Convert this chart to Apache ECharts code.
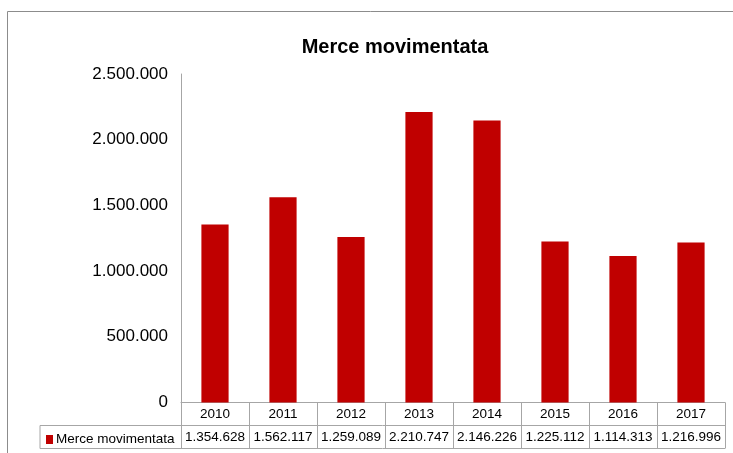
<!DOCTYPE html>
<html>
<head>
<meta charset="utf-8">
<script src="https://cdn.jsdelivr.net/npm/echarts@6/dist/echarts.min.js"></script>
<style>
  html, body { margin: 0; padding: 0; background: #fff; }
  #chart { width: 733px; height: 453px; }
</style>
</head>
<body>
<div id="chart"></div>
<script>
// dati
var years = ['2010', '2011', '2012', '2013', '2014', '2015', '2016', '2017']
var merce = [1354628, 1562117, 1259089, 2210747, 2146226, 1225112, 1114313, 1216996]
var yTicks = [0, 500000, 1000000, 1500000, 2000000, 2500000]

var seriesName = 'Merce movimentata'
var font = 'Liberation Sans, Arial, sans-serif'
var lineColor = '#a6a6a6'

// griglia
var gLeft = 181, gRight = 8, gTop = 74, gBottom = 50.5
var rowH = 23
var axisY = 453 - gBottom
var tableLeft = 40

function fmt(n) {
  return String(n).replace(/\B(?=(\d{3})+(?!\d))/g, '.')
}

var chart = echarts.init(document.getElementById('chart'))

var option = {
  animation: false,
  title: {
    text: seriesName,
    left: 390,
    top: 32,
    textAlign: 'center',
    textStyle: { fontFamily: font, fontSize: 20, fontWeight: 'bold', color: '#000' }
  },
  legend: {
    data: [seriesName],
    left: tableLeft + 6,
    top: axisY + rowH + 7,
    icon: 'rect',
    itemWidth: 7,
    itemHeight: 9,
    itemGap: 4,
    padding: 0,
    textStyle: { fontFamily: font, fontSize: 13.5, color: '#000', padding: [0, 0, 0, -2] }
  },
  grid: { left: gLeft, right: gRight, top: gTop, bottom: gBottom, containLabel: false },
  xAxis: {
    type: 'category',
    data: years,
    axisLine: { show: true, lineStyle: { color: lineColor } },
    axisTick: { show: true, length: rowH * 2, lineStyle: { color: lineColor } },
    axisLabel: {
      margin: 0,
      interval: 0,
      formatter: function (val, idx) {
        return '{y|' + val + '}\n{v|' + fmt(merce[idx]) + '}'
      },
      rich: {
        y: { fontFamily: font, fontSize: 13.5, color: '#000', lineHeight: rowH, height: rowH },
        v: { fontFamily: font, fontSize: 13.5, color: '#000', lineHeight: rowH, height: rowH }
      }
    }
  },
  yAxis: {
    type: 'value',
    min: yTicks[0],
    max: yTicks[yTicks.length - 1],
    interval: yTicks[1] - yTicks[0],
    axisLine: { show: true, lineStyle: { color: lineColor } },
    axisTick: { show: false },
    splitLine: { show: false },
    axisLabel: {
      margin: 13,
      fontFamily: font,
      fontSize: 17,
      color: '#000',
      formatter: function (v) { return fmt(v) }
    }
  },
  series: [{
    name: seriesName,
    type: 'bar',
    data: merce,
    barWidth: '40%',
    itemStyle: { color: '#c00000' }
  }],
  graphic: [
    // cornice
    { type: 'rect', shape: { x: 7.5, y: 11.5, width: 800, height: 600 },
      style: { fill: 'none', stroke: '#8c8c8c', lineWidth: 1 }, silent: true },
    // righe tabella
    { type: 'line', shape: { x1: tableLeft, y1: axisY + rowH, x2: 733 - gRight, y2: axisY + rowH },
      style: { stroke: lineColor, lineWidth: 1 } },
    { type: 'line', shape: { x1: tableLeft, y1: axisY + rowH * 2, x2: 733 - gRight, y2: axisY + rowH * 2 },
      style: { stroke: lineColor, lineWidth: 1 } },
    { type: 'line', shape: { x1: tableLeft, y1: axisY + rowH, x2: tableLeft, y2: axisY + rowH * 2 },
      style: { stroke: lineColor, lineWidth: 1 } }
  ]
}

chart.setOption(option)
</script>
</body>
</html>
